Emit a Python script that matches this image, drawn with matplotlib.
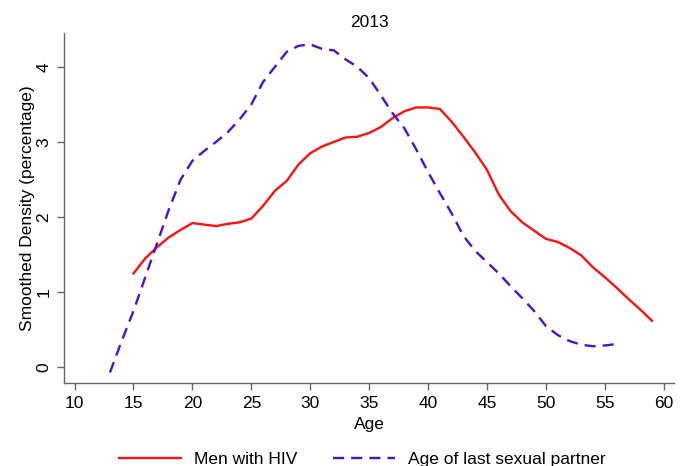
import matplotlib
matplotlib.use('Agg')
import matplotlib.pyplot as plt

plt.rcParams['font.family'] = ['Liberation Sans', 'DejaVu Sans']

# Smoothed density, men with HIV (age 15-59)
hiv_age = list(range(15, 60))
hiv_density = [1.25, 1.45, 1.60, 1.73, 1.83, 1.92, 1.90, 1.88, 1.91, 1.93,
               1.98, 2.15, 2.35, 2.48, 2.70, 2.85, 2.94, 3.00, 3.06, 3.07,
               3.12, 3.20, 3.32, 3.41, 3.46, 3.46, 3.44, 3.27, 3.07, 2.86,
               2.63, 2.30, 2.08, 1.93, 1.82, 1.71, 1.67, 1.59, 1.49, 1.33,
               1.20, 1.06, 0.91, 0.77, 0.62]

# Smoothed density, age of last sexual partner (age 13-56)
partner_age = list(range(13, 57))
partner_density = [-0.07, 0.35, 0.75, 1.20, 1.65, 2.10, 2.50, 2.75, 2.88, 3.00,
                   3.13, 3.30, 3.50, 3.80, 4.00, 4.20, 4.28, 4.30, 4.24, 4.22,
                   4.10, 4.00, 3.85, 3.62, 3.38, 3.18, 2.90, 2.60, 2.32, 2.05,
                   1.75, 1.55, 1.40, 1.25, 1.08, 0.92, 0.75, 0.55, 0.43, 0.35,
                   0.30, 0.28, 0.29, 0.31]

x_ticks = [10, 15, 20, 25, 30, 35, 40, 45, 50, 55, 60]
y_ticks = [0, 1, 2, 3, 4]

fig = plt.figure(figsize=(6.85, 4.66), dpi=100)
ax = fig.add_axes([0.0934, 0.178, 0.891, 0.751])

ax.plot(hiv_age, hiv_density, color='#ff1010', linewidth=1.7,
        label='Men with HIV')
ax.plot(partner_age, partner_density, color='#4a10d8', linewidth=1.7,
        dashes=(4.7, 3.0), label='Age of last sexual partner')

ax.set_xlim(9.1, 60.9)
ax.set_ylim(-0.21, 4.45)
ax.set_xticks(x_ticks)
ax.set_yticks(y_ticks)
ax.set_yticklabels([str(v) for v in y_ticks], rotation=90, va='center')

for side in ['top', 'right']:
    ax.spines[side].set_visible(False)
for side in ['left', 'bottom']:
    ax.spines[side].set_color('#666666')
    ax.spines[side].set_linewidth(1.0)
ax.tick_params(colors='#666666', labelcolor='black', labelsize=12.5,
               length=5, width=1.0)
ax.tick_params(axis='x', pad=4)
ax.tick_params(axis='y', pad=4)

ax.set_xlabel('Age', fontsize=12.5, labelpad=4.5)
ax.set_ylabel('Smoothed Density (percentage)', fontsize=12.5, labelpad=1)
ax.set_title('2013', fontsize=12.5, pad=4.5)

# legend centred under the plot area, partly cut by the figure edge
ax_center = 0.0934 + 0.891 / 2
fig.legend(loc='lower center', bbox_to_anchor=(ax_center - 0.01, -0.035),
           ncol=2, frameon=False, fontsize=12.5, handlelength=3.6,
           columnspacing=2.0, handletextpad=0.75)

fig.savefig('out.png', dpi=100)
